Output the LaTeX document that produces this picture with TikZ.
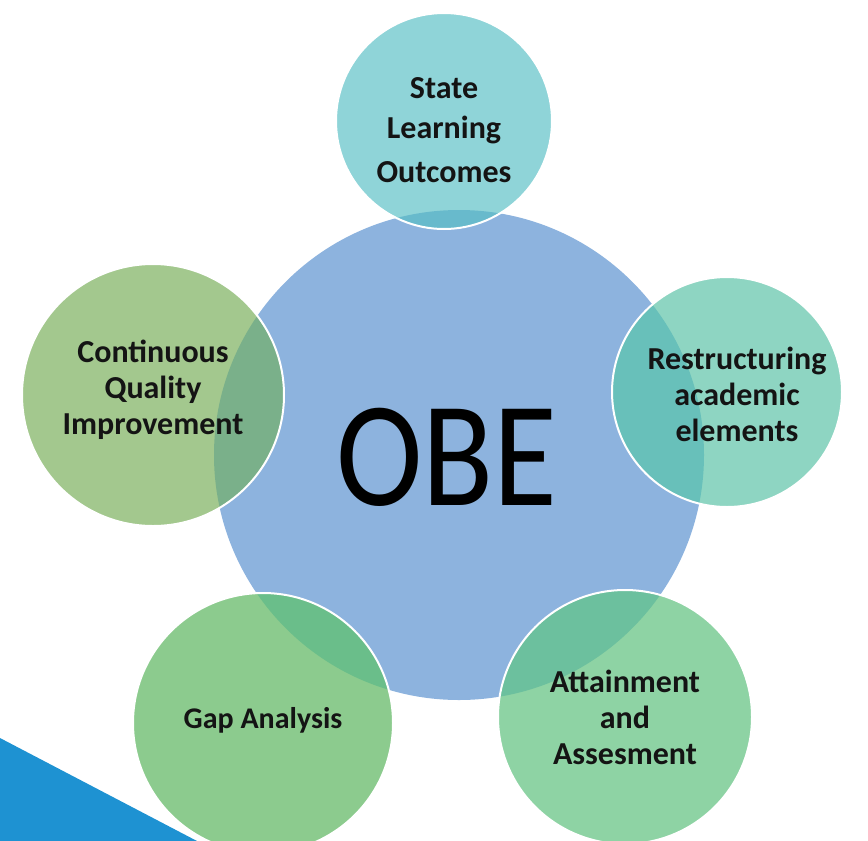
\documentclass[tikz,border=0pt]{standalone}
\usepackage{fontspec}
\setmainfont{Carlito}
\definecolor{obeblue}{RGB}{141,179,222}
\definecolor{cornerblue}{RGB}{30,146,210}
\definecolor{stateteal}{RGB}{143,212,216}
\definecolor{stateover}{RGB}{104,186,204}
\definecolor{restrmint}{RGB}{142,213,194}
\definecolor{restrover}{RGB}{104,192,186}
\definecolor{contgreen}{RGB}{163,200,142}
\definecolor{contover}{RGB}{122,176,138}
\definecolor{gapgreen}{RGB}{140,203,142}
\definecolor{gapover}{RGB}{106,190,138}
\definecolor{attgreen}{RGB}{142,211,164}
\definecolor{attover}{RGB}{108,192,158}
\tikzset{
  bubble/.style 2 args={circle, inner sep=0pt, fill=#1, draw=white, line width=2pt,
    path picture={\fill[#2] (obe) circle (245pt);}},
  caption/.style={align=center, text=black!92, font=\fontsize{32}{36}\selectfont\bfseries},
}
\begin{document}
\begin{tikzpicture}[x=1pt, y=-1pt]
\useasboundingbox (0,0) rectangle (868,841);
% corner band
\fill[cornerblue] (0,738) -- (197,841) -- (0,841) -- cycle;
% centre
\node[circle, fill=obeblue, minimum size=490pt, inner sep=0pt] (obe) at (459,455) {};
\node[xscale=0.87] (obetext) at (447,457) {\fontsize{150}{150}\selectfont OBE};
% satellites
\node[bubble={stateteal}{stateover}, minimum size=216pt] (state) at (444,121) {};
\node[bubble={restrmint}{restrover}, minimum size=230pt] (restr) at (727,392) {};
\node[bubble={contgreen}{contover}, minimum size=262pt] (cont) at (153,395) {};
\node[bubble={gapgreen}{gapover}, minimum size=260pt] (gap) at (263,723) {};
\node[bubble={attgreen}{attover}, minimum size=254pt] (att) at (625,717) {};
% captions
\node[caption] (statetext) at ([yshift=-9pt]state) {State\\[4pt]Learning\\[8pt]Outcomes};
\node[caption] (restrtext) at ([xshift=10pt, yshift=-2pt]restr) {Restructuring\\academic\\elements};
\node[caption] (conttext) at ([yshift=5pt]cont) {Continuous\\Quality\\Improvement};
\node[caption, font=\fontsize{30}{36}\selectfont\bfseries] (gaptext) at ([yshift=3pt]gap) {Gap Analysis};
\node[caption] (atttext) at (att) {Attainment\\and\\Assesment};
\end{tikzpicture}
\end{document}
